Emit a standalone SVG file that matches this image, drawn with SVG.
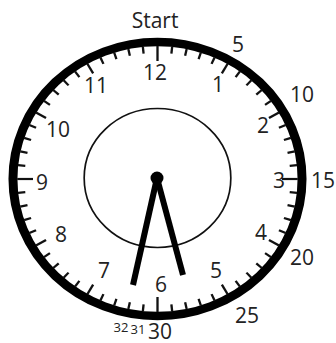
<svg xmlns="http://www.w3.org/2000/svg" xmlns:xlink="http://www.w3.org/1999/xlink" width="336" height="343" viewBox="0 0 336 343">
<style>
.tick{stroke:#111;stroke-width:2.2}
.lbl{font-family:"Open Sans","Liberation Sans",sans-serif;font-size:21px;fill:#222;text-anchor:middle}
.sm{font-size:13px}
.hand{stroke:#000;stroke-width:6;stroke-linecap:butt}
</style>
<defs>
<line id="tm" class="tick" x1="0" y1="-133" x2="0" y2="-126"/>
<line id="th" class="tick" x1="0" y1="-133" x2="0" y2="-122"/>
<line id="tq" class="tick" x1="0" y1="-133" x2="0" y2="-118"/>
</defs>
<rect width="336" height="343" fill="#fff"/>
<g id="dial" transform="translate(157.5,179) scale(1.055,1)">
<circle r="137" fill="none" stroke="#000" stroke-width="8.5"/>
<circle id="inner" r="69.5" cy="-1" fill="none" stroke="#111" stroke-width="1.6"/>
<g id="ticks">
<use xlink:href="#tq" transform="rotate(0)"/><use xlink:href="#tq" transform="rotate(90)"/><use xlink:href="#tq" transform="rotate(180)"/><use xlink:href="#tq" transform="rotate(270)"/>
<use xlink:href="#th" transform="rotate(30)"/><use xlink:href="#th" transform="rotate(60)"/><use xlink:href="#th" transform="rotate(120)"/><use xlink:href="#th" transform="rotate(150)"/>
<use xlink:href="#th" transform="rotate(210)"/><use xlink:href="#th" transform="rotate(240)"/><use xlink:href="#th" transform="rotate(300)"/><use xlink:href="#th" transform="rotate(330)"/>
<use xlink:href="#tm" transform="rotate(6)"/><use xlink:href="#tm" transform="rotate(12)"/><use xlink:href="#tm" transform="rotate(18)"/><use xlink:href="#tm" transform="rotate(24)"/>
<use xlink:href="#tm" transform="rotate(36)"/><use xlink:href="#tm" transform="rotate(42)"/><use xlink:href="#tm" transform="rotate(48)"/><use xlink:href="#tm" transform="rotate(54)"/>
<use xlink:href="#tm" transform="rotate(66)"/><use xlink:href="#tm" transform="rotate(72)"/><use xlink:href="#tm" transform="rotate(78)"/><use xlink:href="#tm" transform="rotate(84)"/>
<use xlink:href="#tm" transform="rotate(96)"/><use xlink:href="#tm" transform="rotate(102)"/><use xlink:href="#tm" transform="rotate(108)"/><use xlink:href="#tm" transform="rotate(114)"/>
<use xlink:href="#tm" transform="rotate(126)"/><use xlink:href="#tm" transform="rotate(132)"/><use xlink:href="#tm" transform="rotate(138)"/><use xlink:href="#tm" transform="rotate(144)"/>
<use xlink:href="#tm" transform="rotate(156)"/><use xlink:href="#tm" transform="rotate(162)"/><use xlink:href="#tm" transform="rotate(168)"/><use xlink:href="#tm" transform="rotate(174)"/>
<use xlink:href="#tm" transform="rotate(186)"/><use xlink:href="#tm" transform="rotate(192)"/><use xlink:href="#tm" transform="rotate(198)"/><use xlink:href="#tm" transform="rotate(204)"/>
<use xlink:href="#tm" transform="rotate(216)"/><use xlink:href="#tm" transform="rotate(222)"/><use xlink:href="#tm" transform="rotate(228)"/><use xlink:href="#tm" transform="rotate(234)"/>
<use xlink:href="#tm" transform="rotate(246)"/><use xlink:href="#tm" transform="rotate(252)"/><use xlink:href="#tm" transform="rotate(258)"/><use xlink:href="#tm" transform="rotate(264)"/>
<use xlink:href="#tm" transform="rotate(276)"/><use xlink:href="#tm" transform="rotate(282)"/><use xlink:href="#tm" transform="rotate(288)"/><use xlink:href="#tm" transform="rotate(294)"/>
<use xlink:href="#tm" transform="rotate(306)"/><use xlink:href="#tm" transform="rotate(312)"/><use xlink:href="#tm" transform="rotate(318)"/><use xlink:href="#tm" transform="rotate(324)"/>
<use xlink:href="#tm" transform="rotate(336)"/><use xlink:href="#tm" transform="rotate(342)"/><use xlink:href="#tm" transform="rotate(348)"/><use xlink:href="#tm" transform="rotate(354)"/>
</g>
</g>
<g id="hours">
<text class="lbl" x="155" y="80">12</text>
<text class="lbl" x="218" y="92">1</text>
<text class="lbl" x="263" y="133">2</text>
<text class="lbl" x="279" y="188">3</text>
<text class="lbl" x="261" y="240">4</text>
<text class="lbl" x="216" y="278">5</text>
<text class="lbl" x="161" y="292">6</text>
<text class="lbl" x="104" y="278">7</text>
<text class="lbl" x="61" y="242">8</text>
<text class="lbl" x="42" y="190">9</text>
<text class="lbl" x="58" y="137">10</text>
<text class="lbl" x="96" y="93">11</text>
</g>
<g id="minutes">
<text class="lbl" x="155" y="28">Start</text>
<text class="lbl" x="238" y="52">5</text>
<text class="lbl" x="302" y="102">10</text>
<text class="lbl" x="323" y="188">15</text>
<text class="lbl" x="302" y="265">20</text>
<text class="lbl" x="247" y="323">25</text>
<text class="lbl" x="160" y="339">30</text>
<text class="lbl sm" x="138" y="334">31</text>
<text class="lbl sm" x="121" y="332">32</text>
</g>
<g id="hands">
<line class="hand" x1="157" y1="178" x2="133" y2="285"/>
<line class="hand" x1="157" y1="178" x2="183" y2="275"/>
<circle cx="157" cy="178" r="6.5" fill="#000"/>
</g>
</svg>
